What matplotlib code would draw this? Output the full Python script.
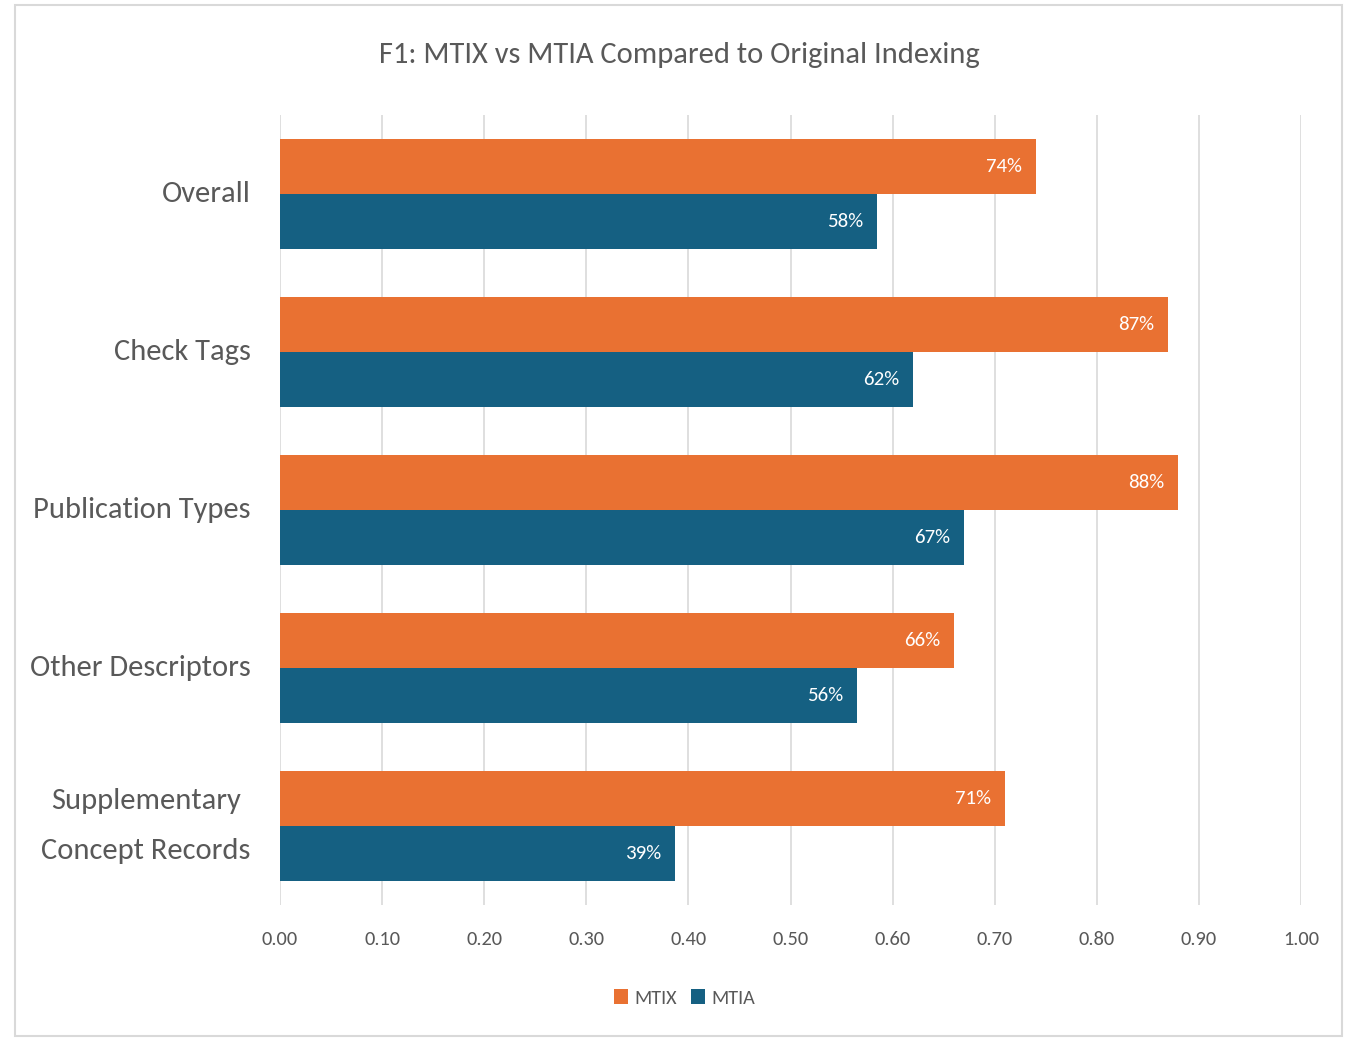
import matplotlib
matplotlib.use('Agg')
import matplotlib.pyplot as plt
import numpy as np
from matplotlib.patches import Rectangle

plt.rcParams['font.family'] = ['Carlito', 'DejaVu Sans']

categories = ['Overall', 'Check Tags', 'Publication Types', 'Other Descriptors',
              'Supplementary\nConcept Records']
mtix = [0.74, 0.87, 0.88, 0.66, 0.71]
mtia = [0.585, 0.62, 0.67, 0.565, 0.387]
mtix_labels = ['74%', '87%', '88%', '66%', '71%']
mtia_labels = ['58%', '62%', '67%', '56%', '39%']

orange = '#E97132'
blue = '#156082'
gray = '#595959'

fig = plt.figure(figsize=(13.53, 10.38), dpi=100)
ax = fig.add_axes([280 / 1353, 1 - 905 / 1038, 1021 / 1353, 790 / 1038])

y = np.arange(len(categories))
h = 0.348
ax.barh(y - h / 2, mtix, height=h, color=orange, label='MTIX', zorder=3)
ax.barh(y + h / 2, mtia, height=h, color=blue, label='MTIA', zorder=3)

# data labels inside the bar ends
for yi, v, s in zip(y, mtix, mtix_labels):
    ax.text(v - 0.0135, yi - h / 2, s, ha='right', va='center', color='white', fontsize=15, zorder=4)
for yi, v, s in zip(y, mtia, mtia_labels):
    ax.text(v - 0.0135, yi + h / 2, s, ha='right', va='center', color='white', fontsize=15, zorder=4)

ax.set_xlim(0, 1.0)
ax.set_ylim(len(categories) - 0.5, -0.5)
ax.set_xticks(np.arange(0, 1.01, 0.1))
ax.set_xticklabels(['%.2f' % t for t in np.arange(0, 1.01, 0.1)], fontsize=14.7, color=gray)
ax.set_yticks(y)
ax.set_yticklabels(categories, fontsize=22, color=gray, linespacing=2.1)
for lab in ax.get_yticklabels():
    lab.set_multialignment('center')
    lab.set_verticalalignment('center')
ax.tick_params(axis='both', length=0)
ax.tick_params(axis='x', pad=19)
ax.tick_params(axis='y', pad=21)
ax.grid(axis='x', color='#d9d9d9', linewidth=1.2, zorder=0)
for sp in ax.spines.values():
    sp.set_visible(False)

fig.text(0.502, 1 - 55 / 1038, 'F1: MTIX vs MTIA Compared to Original Indexing',
         ha='center', va='center', fontsize=22, color=gray)

leg = fig.legend(loc='center', bbox_to_anchor=(0.506, 1 - 998 / 1038), ncol=2, frameon=False,
                 fontsize=14.5, handlelength=0.7, handleheight=0.7, handletextpad=0.3,
                 columnspacing=0.7, labelcolor=gray)

fig.patches.append(Rectangle((15 / 1353, 0.002), 1327 / 1353, 1 - 5 / 1038 - 0.002,
                             transform=fig.transFigure, fill=False, edgecolor='#d9d9d9', linewidth=1.5))

fig.savefig('out.png', dpi=100)
